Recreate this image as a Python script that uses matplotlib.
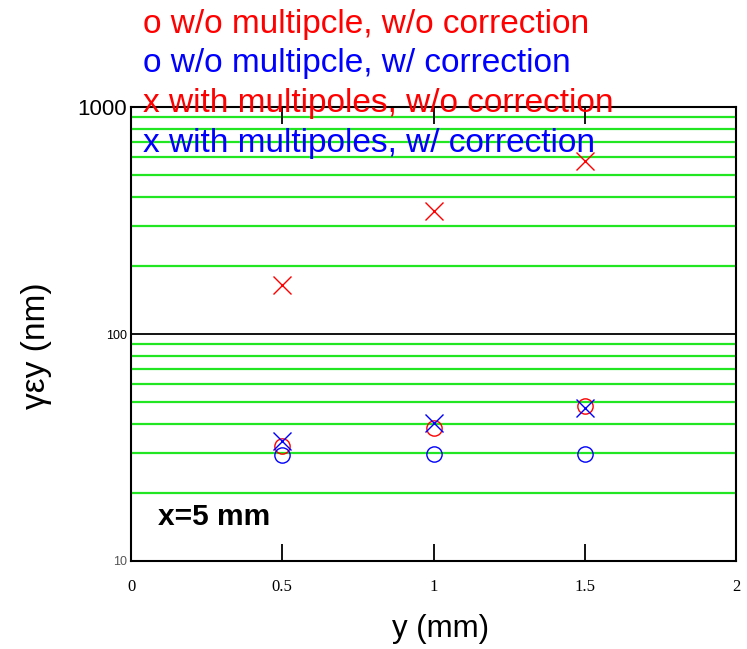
import matplotlib
matplotlib.use("Agg")
import matplotlib.pyplot as plt

# emittance vs vertical offset, x = 5 mm
y_pos = [0.5, 1.0, 1.5]
no_mp_no_corr = [32.1, 38.5, 48.2]      # red o
no_mp_corr = [29.3, 29.5, 29.5]         # blue o
mp_no_corr = [164, 348, 578]            # red x
mp_corr = [33.8, 40.5, 47.2]            # blue x

grid_levels = [20, 30, 40, 50, 60, 70, 80, 90,
               200, 300, 400, 500, 600, 700, 800, 900]
xticks = [0, 0.5, 1, 1.5, 2]
xtick_labels = ["0", "0.5", "1", "1.5", "2"]

legend_lines = [
    ("o w/o multipcle, w/o correction", "red"),
    ("o w/o multipcle, w/ correction", "blue"),
    ("x with multipoles, w/o correction", "red"),
    ("x with multipoles, w/ correction", "blue"),
]

fig = plt.figure(figsize=(7.47, 6.49), dpi=100)
ax = fig.add_axes([0.1754, 0.1356, 0.81, 0.6994])
ax.set_yscale("log")
ax.set_xlim(0, 2)
ax.set_ylim(10, 1000)

for g in grid_levels:
    ax.axhline(g, color="#22e622", lw=1.6, zorder=1)
ax.axhline(100, color="black", lw=1.3, zorder=1)

ax.plot(y_pos, no_mp_no_corr, "o", mfc="none", mec="red", ms=11, mew=1.0, zorder=3)
ax.plot(y_pos, no_mp_corr, "o", mfc="none", mec="blue", ms=11, mew=1.0, zorder=3)
ax.plot(y_pos, mp_no_corr, "x", color="red", ms=13, mew=1.0, zorder=3)
ax.plot(y_pos, mp_corr, "x", color="blue", ms=13, mew=1.0, zorder=3)

for s in ax.spines.values():
    s.set_linewidth(1.5)

ax.set_xticks(xticks)
ax.set_xticklabels(xtick_labels, family="Liberation Serif", fontsize=12)
ax.tick_params(axis="x", direction="in", length=12, width=1.3, top=True, pad=13)
ax.minorticks_off()
ax.set_yticks([10, 100, 1000])
ax.set_yticklabels(["10", "100", "1000"], family="Liberation Sans")
ax.tick_params(axis="y", length=0, pad=3)
ylabs = ax.get_yticklabels()
ylabs[0].set_fontsize(9)
ylabs[0].set_color("#555555")
ylabs[1].set_fontsize(9)
ylabs[2].set_fontsize(16)

ax.set_xlabel("y (mm)", fontsize=22.5, family="Liberation Sans")
ax.xaxis.set_label_coords(0.512, -0.117)
ax.set_ylabel("γεy (nm)", fontsize=24, family="Liberation Sans")
ax.yaxis.set_label_coords(-0.13, 0.474)

ax.text(0.044, 0.08, "x=5 mm", transform=ax.transAxes, fontsize=21.5,
        fontweight="bold", family="Liberation Sans")

for i, (txt, col) in enumerate(legend_lines):
    fig.text(0.191, 0.963 - i * 0.0616, txt, color=col, fontsize=24,
             family="Liberation Sans", va="center", ha="left", zorder=5)

fig.savefig("out.png", dpi=100)
